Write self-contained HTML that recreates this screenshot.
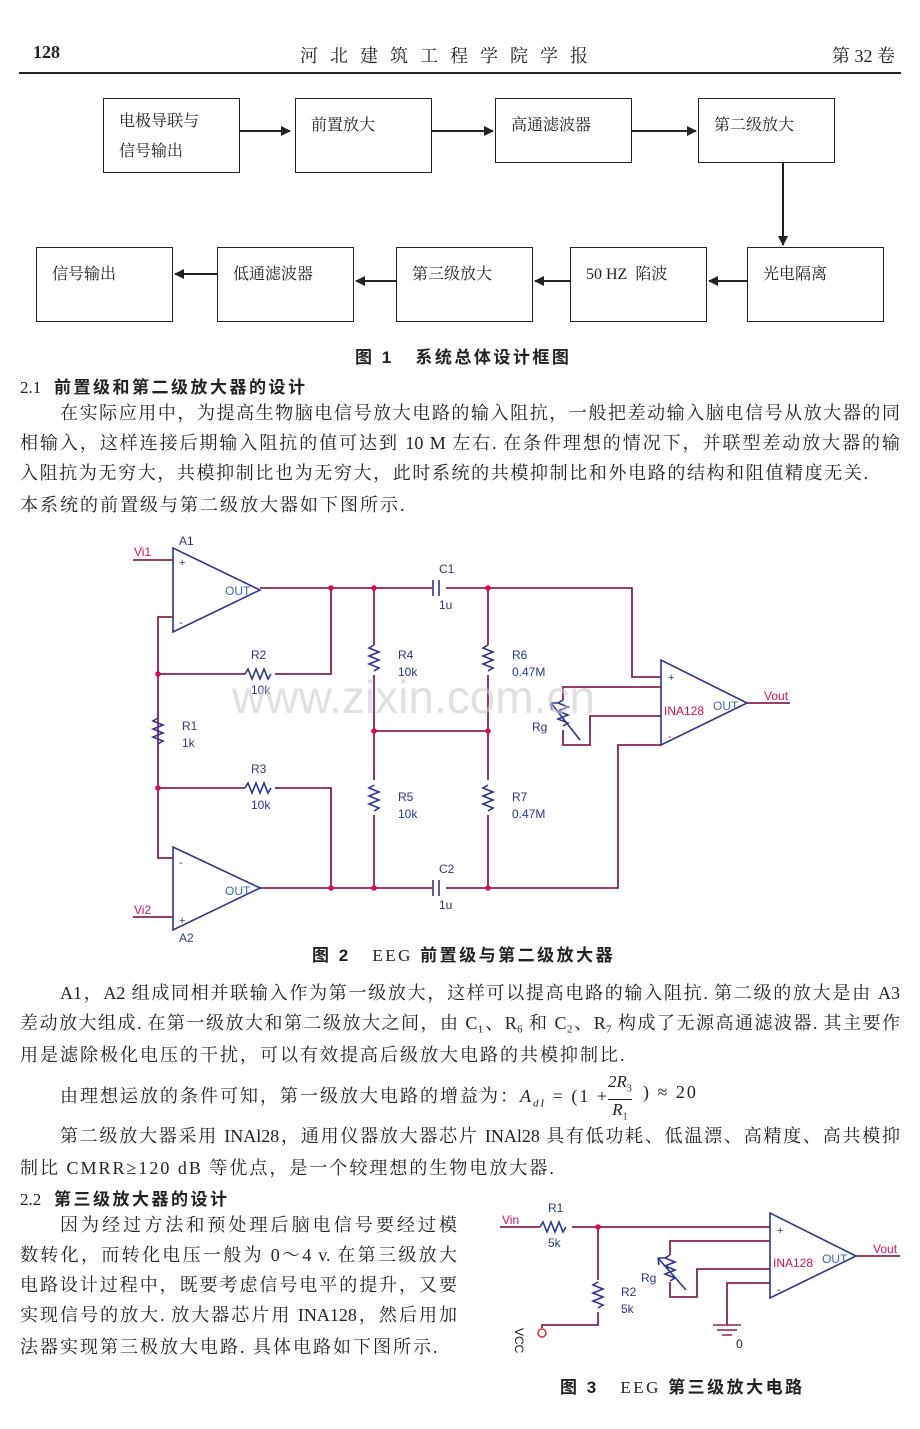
<!DOCTYPE html>
<html><head><meta charset="utf-8"><style>
body{margin:0;background:#fff;width:920px;height:1429px;position:relative;overflow:hidden;font-family:"Liberation Serif","Noto Serif CJK SC",serif;color:#222}
.a{position:absolute;white-space:nowrap}
.t{letter-spacing:2px;font-size:18px}
.l{position:absolute;font-size:18px;text-align:justify;text-align-last:justify;white-space:nowrap;height:24px;line-height:24px}
.h{font-family:"Liberation Sans","Noto Sans CJK SC",sans-serif;font-weight:bold}
.c{letter-spacing:2.5px}
.box{position:absolute;border:1.5px solid #222;box-sizing:border-box;font-size:16px;padding:12px 0 0 15px;line-height:30px}
</style></head><body>
<div class="a" style="left:33px;top:42px;font-size:18px;font-weight:bold">128</div>
<div class="a" style="left:300px;top:42px;font-size:18px;letter-spacing:12px">河北建筑工程学院学报</div>
<div class="a" style="left:832px;top:42px;font-size:18px">第 32 卷</div>
<div class="a" style="left:19px;top:72px;width:882px;height:2px;background:#222"></div>

<div class="box" style="left:103px;top:98px;width:137px;height:75px;padding-top:8px">电极导联与<br>信号输出</div>
<div class="box" style="left:295px;top:98px;width:137px;height:75px">前置放大</div>
<div class="box" style="left:495px;top:98px;width:137px;height:65px">高通滤波器</div>
<div class="box" style="left:698px;top:98px;width:137px;height:65px">第二级放大</div>
<div class="box" style="left:36px;top:247px;width:137px;height:75px">信号输出</div>
<div class="box" style="left:217px;top:247px;width:137px;height:75px">低通滤波器</div>
<div class="box" style="left:396px;top:247px;width:137px;height:75px">第三级放大</div>
<div class="box" style="left:570px;top:247px;width:137px;height:75px">50 HZ &nbsp;陷波</div>
<div class="box" style="left:747px;top:247px;width:137px;height:75px">光电隔离</div>
<svg class="a" style="left:0;top:0" width="920" height="340">
<defs><marker id="ar" markerWidth="10" markerHeight="10" refX="9" refY="5" orient="auto" markerUnits="userSpaceOnUse"><path d="M0,0L10,5L0,10z" fill="#222"/></marker></defs>
<g stroke="#222" stroke-width="2" marker-end="url(#ar)">
<line x1="240" y1="131" x2="290" y2="131"/>
<line x1="432" y1="131" x2="493" y2="131"/>
<line x1="632" y1="131" x2="696" y2="131"/>
<line x1="783" y1="163" x2="783" y2="245"/>
<line x1="747" y1="281" x2="709" y2="281"/>
<line x1="570" y1="281" x2="535" y2="281"/>
<line x1="396" y1="281" x2="356" y2="281"/>
<line x1="217" y1="274" x2="175" y2="274"/>
</g></svg>
<div class="a h c" style="left:355px;top:343px;font-size:17px">图 1 &nbsp;&nbsp;系统总体设计框图</div>
<div class="a" style="left:20px;top:373px;font-size:17px">2.1 &nbsp;&nbsp;<span class="h c">前置级和第二级放大器的设计</span></div>
<div class="l" style="left:60px;top:401px;width:840px">在实际应用中，为提高生物脑电信号放大电路的输入阻抗，一般把差动输入脑电信号从放大器的同</div>
<div class="l" style="left:20px;top:431px;width:880px">相输入，这样连接后期输入阻抗的值可达到 10 M 左右. 在条件理想的情况下，并联型差动放大器的输</div>
<div class="l" style="left:20px;top:461px;width:848px">入阻抗为无穷大，共模抑制比也为无穷大，此时系统的共模抑制比和外电路的结构和阻值精度无关.</div>
<div class="a t" style="left:20px;top:491px">本系统的前置级与第二级放大器如下图所示.</div>

<svg class="a" style="left:0;top:0" width="920" height="1429" font-family="Liberation Sans,sans-serif">
<g fill="none" stroke="#8b2252" stroke-width="1.8">
<path d="M133,560H173M133,917H173"/>
<path d="M173,617H158V858H173"/>
<path d="M260,588H432M446,588H632V677H661"/>
<path d="M260,888H432M446,888H618V745H661"/>
<path d="M158,674H245M275,674H331V588"/>
<path d="M158,788H245M275,788H331V888"/>
<path d="M374,588V645M374,675V780M374,815V888"/>
<path d="M488,588V645M488,675V780M488,815V888"/>
<path d="M374,731H488"/>
<path d="M661,687H563V700M563,730V745H590V716H661"/>
<path d="M747,703H790"/>
<path d="M500,1227H540M572,1227H770"/>
<path d="M598,1227V1280M598,1312V1325H542V1328"/>
<path d="M770,1241H670V1255M670,1282V1297H697V1269H770"/>
<path d="M770,1283H727V1325"/>
<path d="M856,1256H900"/>
</g>
<g fill="none" stroke="#2a3590" stroke-width="1.6">
<path d="M173,548V632L260,590Z"/>
<path d="M173,847V930L260,888Z"/>
<path d="M661,660V745L747,703Z"/>
<path d="M770,1213V1298L856,1256Z"/>
<path d="M433,580V596M439,580V596M433,880V896M439,880V896"/>
<path d="M245,674l3,-5 4,10 4,-10 4,10 4,-10 4,10 3,-5"/>
<path d="M245,788l3,-5 4,10 4,-10 4,10 4,-10 4,10 3,-5"/>
<path d="M540,1227l3,-5 4,10 4,-10 4,10 4,-10 4,10 3,-5"/>
<path d="M158,718l-5,3 10,4 -10,4 10,4 -10,4 10,4 -5,3"/>
<path d="M374,645l-5,3 10,4 -10,4 10,4 -10,4 10,4 -5,3"/>
<path d="M374,785l-5,3 10,4 -10,4 10,4 -10,4 10,4 -5,3"/>
<path d="M488,645l-5,3 10,4 -10,4 10,4 -10,4 10,4 -5,3"/>
<path d="M488,785l-5,3 10,4 -10,4 10,4 -10,4 10,4 -5,3"/>
<path d="M598,1282l-5,3 10,4 -10,4 10,4 -10,4 10,4 -5,3"/>
<path d="M563,700l-5,3 10,4 -10,4 10,4 -10,4 10,4 -5,3M551,703L580,740M551,703l7,0M551,703l1,7"/>
<path d="M670,1255l-5,3 10,4 -10,4 10,4 -10,4 10,4 -5,3M658,1258L686,1290M658,1258l7,0M658,1258l1,7"/>
<path d="M713,1325h28M717,1330h20M722,1335h10" stroke="#8b2252"/>
</g>
<circle cx="542" cy="1333" r="4" fill="#fff" stroke="#d33" stroke-width="1.5"/>
<g fill="#d0105a"><circle cx="331" cy="588" r="2.8"/><circle cx="374" cy="588" r="2.8"/><circle cx="488" cy="588" r="2.8"/><circle cx="331" cy="888" r="2.8"/><circle cx="374" cy="888" r="2.8"/><circle cx="488" cy="888" r="2.8"/><circle cx="374" cy="731" r="2.8"/><circle cx="488" cy="731" r="2.8"/><circle cx="158" cy="674" r="2.8"/><circle cx="158" cy="788" r="2.8"/><circle cx="598" cy="1227" r="2.8"/></g>
<g fill="#2a3590" font-size="12">
<text x="179" y="545">A1</text><text x="179" y="942">A2</text>
<text x="179" y="566" font-size="11">+</text><text x="179" y="626" font-size="11">-</text>
<text x="179" y="866" font-size="11">-</text><text x="179" y="924" font-size="11">+</text>
<text x="225" y="595" fill="#3a6aa8">OUT</text><text x="225" y="895" fill="#3a6aa8">OUT</text>
<text x="439" y="573">C1</text><text x="439" y="609">1u</text>
<text x="439" y="873">C2</text><text x="439" y="909">1u</text>
<text x="251" y="659">R2</text><text x="251" y="694">10k</text>
<text x="251" y="773">R3</text><text x="251" y="809">10k</text>
<text x="182" y="730">R1</text><text x="182" y="747">1k</text>
<text x="398" y="659">R4</text><text x="398" y="676">10k</text>
<text x="398" y="801">R5</text><text x="398" y="818">10k</text>
<text x="512" y="659">R6</text><text x="512" y="676">0.47M</text>
<text x="512" y="801">R7</text><text x="512" y="818">0.47M</text>
<text x="532" y="731">Rg</text>
<text x="668" y="681" font-size="11">+</text><text x="668" y="740" font-size="11">-</text>
<text x="713" y="710" fill="#3a6aa8">OUT</text>
<text x="548" y="1212">R1</text><text x="548" y="1247">5k</text>
<text x="621" y="1296">R2</text><text x="621" y="1313">5k</text>
<text x="641" y="1282">Rg</text>
<text x="777" y="1234" font-size="11">+</text><text x="777" y="1293" font-size="11">-</text>
<text x="822" y="1263" fill="#3a6aa8">OUT</text>
<text x="736" y="1348" fill="#222">0</text>
<text x="515" y="1328" fill="#222" transform="rotate(90 515 1328)">VCC</text>
</g>
<g fill="#d0105a" font-size="12">
<text x="134" y="556">Vi1</text><text x="134" y="914">Vi2</text>
<text x="664" y="715">INA128</text><text x="764" y="700">Vout</text>
<text x="502" y="1224">Vin</text><text x="773" y="1267">INA128</text><text x="873" y="1253">Vout</text>
</g>
<text x="232" y="713" font-size="46" fill="#ccc" fill-opacity="0.6">www.zixin.com.cn</text>
</svg>

<div class="a h c" style="left:312px;top:941px;font-size:17px">图 2 &nbsp;&nbsp;<span style="font-weight:normal;font-family:'Liberation Serif',serif">EEG</span> 前置级与第二级放大器</div>
<div class="l" style="left:60px;top:981px;width:840px">A1，A2 组成同相并联输入作为第一级放大，这样可以提高电路的输入阻抗. 第二级的放大是由 A3</div>
<div class="l" style="left:20px;top:1011px;width:880px">差动放大组成. 在第一级放大和第二级放大之间，由 C₁、R₆ 和 C₂、R₇ 构成了无源高通滤波器. 其主要作</div>
<div class="a t" style="left:20px;top:1041px">用是滤除极化电压的干扰，可以有效提高后级放大电路的共模抑制比.</div>
<div class="a t" style="left:60px;top:1082px">由理想运放的条件可知，第一级放大电路的增益为：<i>A<sub style="font-size:11px">dI</sub></i> = (1 + </div>
<div class="a" style="left:608px;top:1072px;font-size:17px;text-align:center;line-height:20px"><i>2R</i><sub style="font-size:10px">3</sub><div style="border-top:1px solid #222"><i>R</i><sub style="font-size:10px">1</sub></div></div>
<div class="a t" style="left:643px;top:1082px">) ≈ 20</div>
<div class="l" style="left:60px;top:1124px;width:840px">第二级放大器采用 INAl28，通用仪器放大器芯片 INAl28 具有低功耗、低温漂、高精度、高共模抑</div>
<div class="a t" style="left:20px;top:1154px">制比 CMRR≥120 dB 等优点，是一个较理想的生物电放大器.</div>
<div class="a" style="left:20px;top:1185px;font-size:17px">2.2 &nbsp;&nbsp;<span class="h c">第三级放大器的设计</span></div>
<div class="l" style="left:60px;top:1213px;width:397px">因为经过方法和预处理后脑电信号要经过模</div>
<div class="l" style="left:20px;top:1243px;width:437px">数转化，而转化电压一般为 0～4 v. 在第三级放大</div>
<div class="l" style="left:20px;top:1273px;width:437px">电路设计过程中，既要考虑信号电平的提升，又要</div>
<div class="l" style="left:20px;top:1303px;width:437px">实现信号的放大. 放大器芯片用 INA128，然后用加</div>
<div class="a t" style="left:20px;top:1333px">法器实现第三极放大电路. 具体电路如下图所示.</div>
<div class="a h c" style="left:560px;top:1373px;font-size:17px">图 3 &nbsp;&nbsp;<span style="font-weight:normal;font-family:'Liberation Serif',serif">EEG</span> 第三级放大电路</div>
</body></html>
